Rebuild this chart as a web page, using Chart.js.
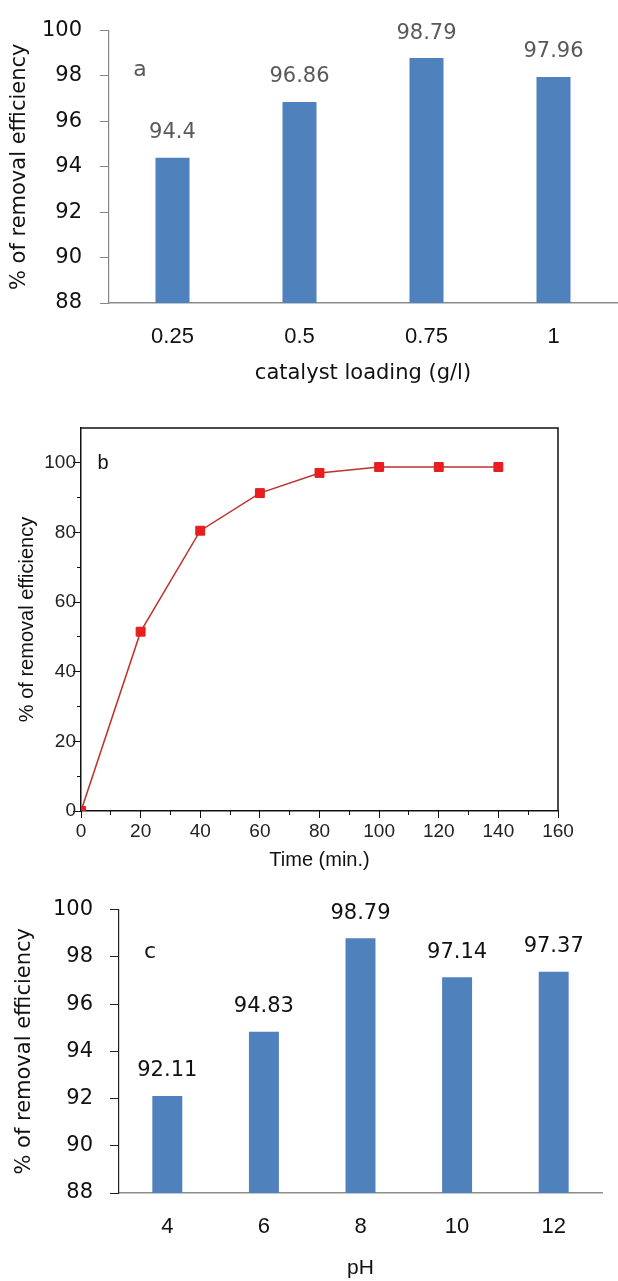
<!DOCTYPE html>
<html>
<head>
<meta charset="utf-8">
<title>Removal efficiency</title>
<script src="https://cdn.jsdelivr.net/npm/chart.js@4.4.1/dist/chart.umd.min.js"></script>
<style>
    body { margin: 0; background: #fff; }
    .panel { position: absolute; left: 0; width: 618px; }
    #panel-a { top: 0; height: 400px; }
    #panel-b { top: 410px; height: 470px; }
    #panel-c { top: 880px; height: 401px; }
</style>
</head>
<body>
<div class="panel" id="panel-a"><canvas id="chart-a" width="618" height="400"></canvas></div>
<div class="panel" id="panel-b"><canvas id="chart-b" width="618" height="470"></canvas></div>
<div class="panel" id="panel-c"><canvas id="chart-c" width="618" height="401"></canvas></div>
<script>
// (a) catalyst loading
const loadingLabels = ['0.25', '0.5', '0.75', '1'];
const loadingValues = [94.4, 96.86, 98.79, 97.96];

// (b) contact time
const timeValues = [0, 20, 40, 60, 80, 100, 120, 140];
const timeRemoval = [0, 51.5, 80.5, 91.3, 97.1, 98.8, 98.8, 98.8];

// (c) pH
const phLabels = ['4', '6', '8', '10', '12'];
const phValues = [92.11, 94.83, 98.79, 97.14, 97.37];

const yTitle = '% of removal efficiency';
const barColor = '#4F81BD';
const gothic = 'DejaVu Sans';
const arial = 'Liberation Sans';

// Draws value text above each bar
const barValuePlugin = {
    id: 'barValues',
    afterDatasetsDraw(chart, args, opts) {
        const ctx = chart.ctx;
        const meta = chart.getDatasetMeta(0);
        const values = chart.data.datasets[0].data;
        ctx.save();
        ctx.font = `21px "${gothic}"`;
        ctx.fillStyle = opts.color;
        ctx.textAlign = 'center';
        ctx.textBaseline = 'middle';
        meta.data.forEach((bar, i) => {
            ctx.fillText(String(values[i]), bar.x, bar.y - 25);
        });
        ctx.restore();
    }
};

// Panel letter (a, b, c) inside the plot area
const panelLetterPlugin = {
    id: 'panelLetter',
    afterDraw(chart, args, opts) {
        if (!opts.text) return;
        const ctx = chart.ctx;
        const area = chart.chartArea;
        ctx.save();
        ctx.font = opts.font;
        ctx.fillStyle = opts.color;
        ctx.textAlign = 'center';
        ctx.textBaseline = 'middle';
        ctx.fillText(opts.text, area.left + opts.dx, area.top + opts.dy);
        ctx.restore();
    }
};

// Top and right sides of the box around plot (b)
const framePlugin = {
    id: 'frame',
    afterDraw(chart, args, opts) {
        if (!opts.enabled) return;
        const ctx = chart.ctx;
        const a = chart.chartArea;
        ctx.save();
        ctx.strokeStyle = '#111';
        ctx.lineWidth = 1.5;
        ctx.beginPath();
        ctx.moveTo(a.left, a.top);
        ctx.lineTo(a.right, a.top);
        ctx.lineTo(a.right, a.bottom);
        ctx.stroke();
        ctx.restore();
    }
};

Chart.register(barValuePlugin, panelLetterPlugin, framePlugin);

/**
 * Bar chart used for panels (a) and (c)
 */
function renderBarChart(canvasId, cfg) {
    const ctx = document.getElementById(canvasId).getContext('2d');
    return new Chart(ctx, {
        type: 'bar',
        data: {
            labels: cfg.labels,
            datasets: [{
                data: cfg.values,
                backgroundColor: barColor,
                borderWidth: 0,
                barPercentage: 1,
                categoryPercentage: cfg.barFraction
            }]
        },
        options: {
            responsive: false,
            animation: false,
            layout: { padding: { top: cfg.top, right: cfg.right, left: 0, bottom: 0 } },
            scales: {
                x: {
                    grid: { display: false, drawTicks: false },
                    border: { color: '#8c8c8c', width: 1.5 },
                    ticks: { font: { family: arial, size: 22 }, color: '#111', padding: 21 },
                    title: {
                        display: true,
                        text: cfg.xTitle,
                        font: { family: cfg.xTitleFont, size: 21 },
                        color: '#111',
                        padding: { top: 0, bottom: cfg.xTitleBottom }
                    },
                    afterFit: (scale) => { scale.height = cfg.xHeight; }
                },
                y: {
                    min: 88,
                    max: 100,
                    ticks: {
                        stepSize: 2,
                        font: { family: gothic, size: 21 },
                        color: '#111',
                        padding: cfg.yTickPad
                    },
                    grid: { drawOnChartArea: false, drawTicks: true, tickLength: 9, color: cfg.axisColor },
                    border: { color: cfg.axisColor, width: 1.2 },
                    title: {
                        display: true,
                        text: yTitle,
                        font: { family: gothic, size: 21 },
                        color: '#111',
                        padding: { top: cfg.yTitlePad, bottom: 0 }
                    },
                    afterFit: (scale) => { scale.width = cfg.yWidth; }
                }
            },
            plugins: {
                legend: { display: false },
                tooltip: { enabled: false },
                barValues: { color: cfg.valueColor },
                panelLetter: cfg.letter,
                frame: { enabled: false }
            }
        }
    });
}

/**
 * Line chart for panel (b)
 */
function renderTimeChart() {
    const ctx = document.getElementById('chart-b').getContext('2d');
    const points = timeValues.map((t, i) => ({ x: t, y: timeRemoval[i] }));
    return new Chart(ctx, {
        type: 'line',
        data: {
            datasets: [{
                data: points,
                borderColor: '#c0302c',
                borderWidth: 1.5,
                pointStyle: 'rect',
                pointRadius: 6.3,
                pointBackgroundColor: '#ee1c1c',
                pointBorderColor: '#d42222',
                pointBorderWidth: 1,
                tension: 0,
                fill: false
            }]
        },
        options: {
            responsive: false,
            animation: false,
            layout: { padding: { top: 18, right: 60, left: 0, bottom: 0 } },
            scales: {
                x: {
                    type: 'linear',
                    weight: 1,
                    min: 0,
                    max: 160,
                    ticks: { stepSize: 20, font: { family: arial, size: 19 }, color: '#222', padding: 2 },
                    grid: { drawOnChartArea: false, tickLength: 7, color: '#111' },
                    border: { color: '#111', width: 1.5 },
                    title: {
                        display: true,
                        text: 'Time (min.)',
                        font: { family: arial, size: 20 },
                        color: '#111',
                        padding: { top: 0, bottom: 8 }
                    },
                    afterFit: (scale) => { scale.height = 69; }
                },
                xMinor: {
                    type: 'linear',
                    position: 'bottom',
                    weight: 0,
                    min: 0,
                    max: 160,
                    ticks: { display: false, stepSize: 10 },
                    grid: { drawOnChartArea: false, tickLength: 4, color: '#111' },
                    border: { display: false },
                    afterFit: (scale) => { scale.height = 0; }
                },
                y: {
                    weight: 1,
                    min: 0,
                    max: 110,
                    ticks: { stepSize: 20, font: { family: arial, size: 19 }, color: '#222', padding: -3 },
                    afterBuildTicks: (scale) => {
                        scale.ticks = scale.ticks.filter(t => t.value % 20 === 0);
                    },
                    grid: { drawOnChartArea: false, tickLength: 8, color: '#111' },
                    border: { color: '#111', width: 1.5 },
                    title: {
                        display: true,
                        text: yTitle,
                        font: { family: arial, size: 20 },
                        color: '#111',
                        padding: { top: 15, bottom: 0 }
                    },
                    afterFit: (scale) => { scale.width = 81; }
                },
                yMinor: {
                    position: 'left',
                    weight: 0,
                    min: 0,
                    max: 110,
                    ticks: { display: false, stepSize: 10 },
                    afterBuildTicks: (scale) => {
                        scale.ticks = scale.ticks.filter(t => t.value < 110);
                    },
                    grid: { drawOnChartArea: false, tickLength: 4, color: '#111' },
                    border: { display: false },
                    afterFit: (scale) => { scale.width = 0; }
                }
            },
            plugins: {
                legend: { display: false },
                tooltip: { enabled: false },
                barValues: false,
                panelLetter: { text: 'b', font: `20px "${arial}"`, color: '#111', dx: 22, dy: 35 },
                frame: { enabled: true }
            }
        }
    });
}

renderBarChart('chart-a', {
    labels: loadingLabels,
    values: loadingValues,
    barFraction: 0.268,
    top: 20,
    right: 1,
    xTitle: 'catalyst loading (g/l)',
    xTitleFont: gothic,
    xTitleBottom: 14,
    xHeight: 97,
    yWidth: 109,
    yTickPad: 18,
    yTitlePad: 7,
    axisColor: '#868686',
    valueColor: '#595959',
    letter: { text: 'a', font: `22px "${gothic}"`, color: '#595959', dx: 31, dy: 40 }
});

renderTimeChart();

renderBarChart('chart-c', {
    labels: phLabels,
    values: phValues,
    barFraction: 0.31,
    top: 24,
    right: 16,
    xTitle: 'pH',
    xTitleFont: arial,
    xTitleBottom: 0,
    xHeight: 88,
    yWidth: 119,
    yTickPad: 17,
    yTitlePad: 12,
    axisColor: '#222',
    valueColor: '#111',
    letter: { text: 'c', font: `22px "${gothic}"`, color: '#111', dx: 31, dy: 43 }
});
</script>
</body>
</html>
